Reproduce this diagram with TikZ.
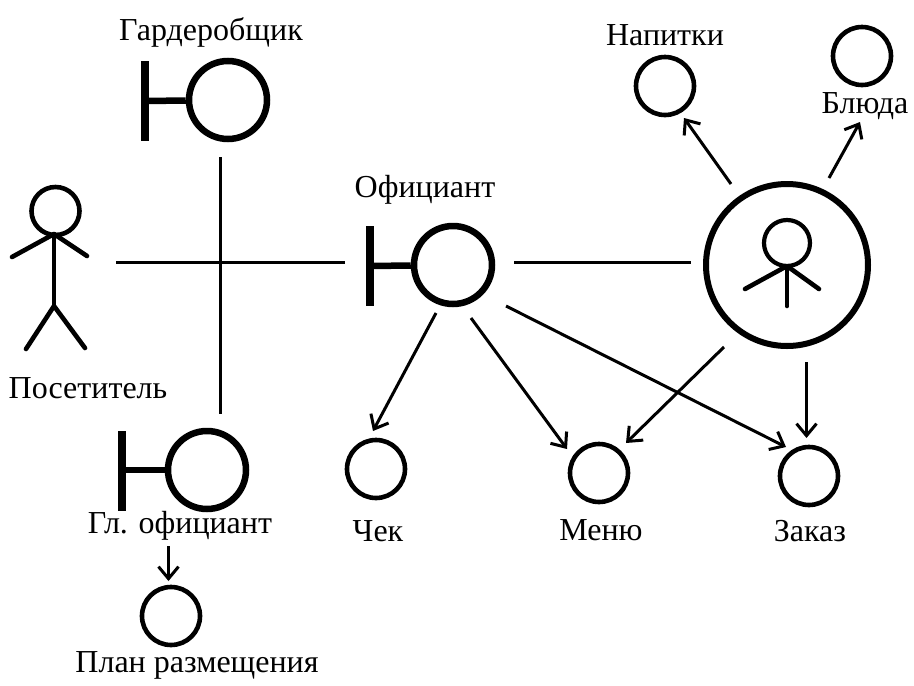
\documentclass[tikz,border=0pt]{standalone}
\usepackage{fontspec}
\setmainfont{Liberation Serif}
\usetikzlibrary{arrows.meta}
\tikzset{
  lbl/.style={inner sep=0pt,font=\fontsize{32}{34}\selectfont},
  barln/.style={line width=8pt,draw=black},
  stemln/.style={line width=6.5pt,draw=black},
  thin1/.style={line width=3pt,draw=black},
  med1/.style={line width=4.6pt,draw=black,line cap=round,line join=round},
  arr/.style={line width=3pt,draw=black,-{Straight Barb[length=12pt,width=20pt,line width=3pt]}},
  objc/.style={circle,draw=black,line width=4.6pt,inner sep=0pt,minimum size=58pt},
  ctrlc/.style={circle,draw=black,line width=6.5pt,inner sep=0pt,minimum size=78pt}
}
\begin{document}
\begin{tikzpicture}[x=1pt,y=-1pt]
\useasboundingbox (0,0) rectangle (914,686);
% labels
\node[lbl] (tGard) at (211,32) {Гардеробщик};
\node[lbl] (tNap) at (665,35) {Напитки};
\node[lbl] (tBl) at (865,106) {Блюда};
\node[lbl] (tOf) at (425,190) {Официант};
\node[lbl] (tPos) at (88,388) {Посетитель};
\node[lbl] (tGl) at (180,526) {Гл. официант};
\node[lbl] (tCh) at (378,531) {Чек};
\node[lbl] (tMe) at (601,530) {Меню};
\node[lbl] (tZa) at (810,531) {Заказ};
\node[lbl] (tPl) at (197,665) {План размещения};
% boundaries
\node[ctrlc] (gard) at (228,100) {};
\draw[barln] (145,61) -- (145,141);
\draw[stemln] (145,101) -- (gard);
\node[ctrlc] (of) at (453,265) {};
\draw[barln] (370,226) -- (370,306);
\draw[stemln] (370,266) -- (of);
\node[ctrlc] (gl) at (207,470) {};
\draw[barln] (122,431) -- (122,511);
\draw[stemln] (122,470) -- (gl);
% objects
\node[objc] (nap) at (665,86) {};
\node[objc] (bl) at (862,56) {};
\node[objc] (ch) at (376,469) {};
\node[objc] (me) at (599,473) {};
\node[objc] (za) at (809,476) {};
\node[objc] (pl) at (171,616) {};
% entity
\node[circle,draw=black,line width=6pt,inner sep=0pt,minimum size=162pt] (ent) at (787,265) {};
\node[circle,draw=black,line width=4.2pt,inner sep=0pt,minimum size=46pt] (eh) at (787,243) {};
\coordinate (eb) at (787,306);
\coordinate (el) at (745,289);
\coordinate (er) at (819,289);
\draw[med1] (eh) -- (eb);
\draw[med1] (el) -- (787,266) -- (er);
% actor
\node[circle,draw=black,line width=4.6pt,inner sep=0pt,minimum size=48pt] (ah) at (55.5,211) {};
\coordinate (aL) at (12,257);
\coordinate (aR) at (87,256);
\coordinate (aFl) at (26,349);
\coordinate (aFr) at (85,348);
\coordinate (aHip) at (54,306);
\draw[med1] (54,234) -- (aHip);
\draw[med1] (aL) -- (54,234) -- (aR);
\draw[med1] (aFl) -- (aHip) -- (aFr);
% connectors
\coordinate (c1) at (116,262);
\coordinate (c2) at (345,262);
\coordinate (c3) at (220,157);
\coordinate (c4) at (220,414);
\coordinate (c5) at (514,262);
\coordinate (c6) at (691,262);
\draw[thin1] (c1) -- (c2);
\draw[thin1] (c3) -- (c4);
\draw[thin1] (c5) -- (c6);
\coordinate (s1) at (731,184);
\coordinate (s2) at (829,178);
\coordinate (s3) at (436,313);
\coordinate (s4) at (471,318);
\coordinate (s5) at (506,306);
\coordinate (s6) at (724,347);
\coordinate (s7) at (806.5,362);
\coordinate (s8) at (168.5,546);
\draw[arr] (s1) -- (684,118);
\draw[arr] (s2) -- (860,122);
\draw[arr] (s3) -- (373,431);
\draw[arr] (s4) -- (567,449);
\draw[arr] (s5) -- (786,447);
\draw[arr] (s6) -- (626,443);
\draw[arr] (s7) -- (806.5,438);
\draw[arr] (s8) -- (168.5,581);
\end{tikzpicture}
\end{document}
